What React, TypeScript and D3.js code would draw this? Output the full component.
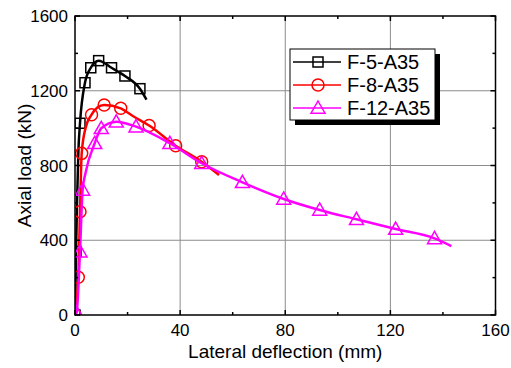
import React from "react";
import * as d3 from "d3";

// deflection (mm), load (kN), marker flag
const f5A35: [number, number, number][] = [
  [0, 0, 1], [0.4, 340, 1], [0.8, 620, 0], [1.3, 880, 0], [1.9, 1026, 1],
  [3.8, 1243, 1], [6.0, 1323, 1], [9.0, 1361, 1], [13.9, 1323, 1],
  [19.0, 1279, 1], [24.7, 1211, 1], [27.2, 1153, 0],
];
const f8A35: [number, number, number][] = [
  [0, 0, 1], [1.25, 202, 1], [1.9, 553, 1], [2.55, 865, 1], [4.0, 1000, 0],
  [6.3, 1072, 1], [8.5, 1110, 0], [11.1, 1124, 1], [17.4, 1106, 1],
  [22.0, 1065, 0], [28.2, 1014, 1], [38.3, 906, 1], [48.2, 820, 1], [54.8, 749, 0],
];
const f12A35: [number, number, number][] = [
  [0, 0, 0], [0.6, 10, 1], [1.9, 339, 1], [2.9, 669, 1], [4.0, 760, 0],
  [7.5, 919, 1], [10.0, 999, 1], [15.7, 1034, 1], [23.2, 1008, 1],
  [36.1, 919, 1], [48.2, 812, 1], [63.7, 710, 1], [79.4, 621, 1],
  [93.1, 562, 1], [107.1, 512, 1], [122.0, 460, 1], [136.8, 410, 1], [143.2, 369, 0],
];

const seriesNames = ["F-5-A35", "F-8-A35", "F-12-A35"];
const seriesColors = ["#000000", "#ff0000", "#ff00ff"];
const seriesMarkers = ["square", "circle", "triangle"];
const seriesData = [f5A35, f8A35, f12A35];

const xTicks = [0, 40, 80, 120, 160];
const xMinor = [20, 60, 100, 140];
const yTicks = [0, 400, 800, 1200, 1600];
const yMinor = [200, 600, 1000, 1400];

const W = 511;
const H = 368;
const margin = { left: 75, right: 15, top: 16, bottom: 53 };
const font = "Arial, 'Liberation Sans', sans-serif";

function Marker({ kind, cx, cy, color }: { kind: string; cx: number; cy: number; color: string }) {
  if (kind === "square") {
    return <rect x={cx - 5} y={cy - 5} width={10} height={10} fill="none" stroke={color} strokeWidth={1.5} />;
  }
  if (kind === "circle") {
    return <circle cx={cx} cy={cy} r={6} fill="none" stroke={color} strokeWidth={1.5} />;
  }
  const s = 7;
  return (
    <path
      d={`M${cx},${cy - s}L${cx + s},${cy + s * 0.75}L${cx - s},${cy + s * 0.75}Z`}
      fill="none"
      stroke={color}
      strokeWidth={1.5}
    />
  );
}

export default function App() {
  const x = d3.scaleLinear().domain([0, 160]).range([margin.left, W - margin.right - 0.5]);
  const y = d3.scaleLinear().domain([0, 1600]).range([H - margin.bottom, margin.top]);
  const line = d3
    .line<[number, number, number]>()
    .x((d) => x(d[0]))
    .y((d) => y(d[1]))
    .curve(d3.curveMonotoneX);

  const [x0, x1] = x.range();
  const [y0, y1] = y.range();

  return (
    <svg width={W} height={H} style={{ position: "absolute", left: 0, top: 0, background: "#fff" }}>
      <defs>
        <clipPath id="plotClip">
          <rect x={x0} y={y1} width={x1 - x0} height={y0 - y1} />
        </clipPath>
      </defs>
      {/* grid */}
      {xTicks.slice(1, -1).map((t) => (
        <line key={"gx" + t} x1={x(t)} x2={x(t)} y1={y0} y2={y1} stroke="#8c8c8c" strokeWidth={1} />
      ))}
      {yTicks.slice(1, -1).map((t) => (
        <line key={"gy" + t} x1={x0} x2={x1} y1={y(t)} y2={y(t)} stroke="#8c8c8c" strokeWidth={1} />
      ))}

      {/* series */}
      <g clipPath="url(#plotClip)">
        {seriesData.map((data, i) => (
          <g key={seriesNames[i]}>
            <path d={line(data) || ""} fill="none" stroke={seriesColors[i]} strokeWidth={2.5} />
            {data
              .filter((d) => d[2] === 1)
              .map((d, j) => (
                <Marker key={j} kind={seriesMarkers[i]} cx={x(d[0])} cy={y(d[1])} color={seriesColors[i]} />
              ))}
          </g>
        ))}
      </g>

      {/* frame */}
      <rect x={x0} y={y1} width={x1 - x0} height={y0 - y1} fill="none" stroke="#000" strokeWidth={1.5} />

      {/* ticks, inward */}
      {xTicks.map((t) => (
        <g key={"xt" + t}>
          <line x1={x(t)} x2={x(t)} y1={y0} y2={y0 - 5} stroke="#000" strokeWidth={1.5} />
          <line x1={x(t)} x2={x(t)} y1={y1} y2={y1 + 5} stroke="#000" strokeWidth={1.5} />
          <text x={x(t)} y={y0 + 21} textAnchor="middle" fontFamily={font} fontSize={17} fill="#000">
            {t}
          </text>
        </g>
      ))}
      {xMinor.map((t) => (
        <g key={"xm" + t}>
          <line x1={x(t)} x2={x(t)} y1={y0} y2={y0 - 3} stroke="#000" strokeWidth={1.5} />
          <line x1={x(t)} x2={x(t)} y1={y1} y2={y1 + 3} stroke="#000" strokeWidth={1.5} />
        </g>
      ))}
      {yTicks.map((t) => (
        <g key={"yt" + t}>
          <line x1={x0} x2={x0 + 5} y1={y(t)} y2={y(t)} stroke="#000" strokeWidth={1.5} />
          <line x1={x1} x2={x1 - 5} y1={y(t)} y2={y(t)} stroke="#000" strokeWidth={1.5} />
          <text x={x0 - 7} y={y(t) + 6} textAnchor="end" fontFamily={font} fontSize={17} fill="#000">
            {t}
          </text>
        </g>
      ))}
      {yMinor.map((t) => (
        <g key={"ym" + t}>
          <line x1={x0} x2={x0 + 3} y1={y(t)} y2={y(t)} stroke="#000" strokeWidth={1.5} />
          <line x1={x1} x2={x1 - 3} y1={y(t)} y2={y(t)} stroke="#000" strokeWidth={1.5} />
        </g>
      ))}

      {/* axis titles */}
      <text x={(x0 + x1) / 2} y={358} textAnchor="middle" fontFamily={font} fontSize={19} fill="#000">
        Lateral deflection (mm)
      </text>
      <text
        transform={`translate(31,${(y0 + y1) / 2}) rotate(-90)`}
        textAnchor="middle"
        fontFamily={font}
        fontSize={19}
        fill="#000"
      >
        Axial load (kN)
      </text>

      {/* legend */}
      <g>
        <rect x={295} y={54} width={145} height={71} fill="#000" />
        <rect x={290} y={49} width={145} height={71} fill="#fff" stroke="#000" strokeWidth={1} />
        {seriesNames.map((name, i) => {
          const ly = 62 + i * 23;
          return (
            <g key={"lg" + name}>
              <line x1={293} x2={341} y1={ly} y2={ly} stroke={seriesColors[i]} strokeWidth={1.5} />
              <Marker kind={seriesMarkers[i]} cx={318} cy={ly} color={seriesColors[i]} />
              <text x={347} y={ly + 7} fontFamily={font} fontSize={20} fill="#000">
                {name}
              </text>
            </g>
          );
        })}
      </g>
    </svg>
  );
}
